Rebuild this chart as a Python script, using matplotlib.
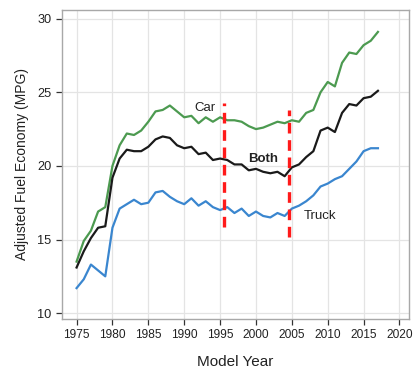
import numpy as np
import matplotlib
matplotlib.use("Agg")
import matplotlib.pyplot as plt

plt.rcParams["font.family"] = ["Liberation Sans", "DejaVu Sans"]

# ----------------------------------------------------------------------
# Data (adjusted fuel economy, MPG)
# ----------------------------------------------------------------------
years = list(range(1975, 2018))

car = [13.5, 14.9, 15.6, 16.9, 17.2, 20.0, 21.4, 22.2, 22.1, 22.4,
       23.0, 23.7, 23.8, 24.1, 23.7, 23.3, 23.4, 22.9, 23.3, 23.0,
       23.3, 23.1, 23.1, 23.0, 22.7, 22.5, 22.6, 22.8, 23.0, 22.9,
       23.1, 23.0, 23.6, 23.8, 25.0, 25.7, 25.4, 27.0, 27.7, 27.6,
       28.2, 28.5, 29.1]

both = [13.1, 14.2, 15.1, 15.8, 15.9, 19.2, 20.5, 21.1, 21.0, 21.0,
        21.3, 21.8, 22.0, 21.9, 21.4, 21.2, 21.3, 20.8, 20.9, 20.4,
        20.5, 20.4, 20.1, 20.1, 19.7, 19.8, 19.6, 19.5, 19.6, 19.3,
        19.9, 20.1, 20.6, 21.0, 22.4, 22.6, 22.3, 23.6, 24.2, 24.1,
        24.6, 24.7, 25.1]

truck = [11.7, 12.3, 13.3, 12.9, 12.5, 15.8, 17.1, 17.4, 17.7, 17.4,
         17.5, 18.2, 18.3, 17.9, 17.6, 17.4, 17.8, 17.3, 17.6, 17.2,
         17.0, 17.2, 16.8, 17.1, 16.6, 16.9, 16.6, 16.5, 16.8, 16.6,
         17.1, 17.3, 17.6, 18.0, 18.6, 18.8, 19.1, 19.3, 19.8, 20.3,
         21.0, 21.2, 21.2]

# red dashed markers: (year, bottom, top)
markers = [(1995.5, 15.85, 24.3), (2004.6, 15.2, 23.8)]

# ----------------------------------------------------------------------
fig = plt.figure(figsize=(4.18, 3.78), dpi=100)
ax = fig.add_axes([0.148, 0.156, 0.830, 0.818])

ax.plot(years, car, color="#4c9a50", lw=1.6, zorder=3)
ax.plot(years, both, color="#1a1a1a", lw=1.6, zorder=3)
ax.plot(years, truck, color="#3a86cf", lw=1.6, zorder=3)

for x, y0, y1 in markers:
    ax.plot([x, x], [y0, y1], color="#ff1a1a", lw=2.4,
            dashes=(3.2, 2.0), zorder=4)

ax.text(1992.9, 23.95, "Car", ha="center", va="center", fontsize=9.5,
        color="#222222")
ax.text(2001.0, 20.45, "Both", ha="center", va="center", fontsize=9.5,
        weight="bold", color="#222222")
ax.text(2008.9, 16.6, "Truck", ha="center", va="center", fontsize=9.5,
        color="#222222")

ax.set_xlim(1972.95, 2021.3)
ax.set_ylim(9.6, 30.6)
ax.set_xticks(range(1975, 2021, 5))
ax.set_yticks([10, 15, 20, 25, 30])
ax.grid(color="#e4e4e4", lw=0.9, zorder=0)
ax.set_axisbelow(True)

for s in ax.spines.values():
    s.set_color("#a8a8a8")
    s.set_linewidth(1.0)

ax.tick_params(direction="out", length=4, width=0.9, color="#333333",
               labelsize=8.6, labelcolor="#222222")
ax.tick_params(axis="y", labelsize=9.2)

ax.set_xlabel("Model Year", fontsize=11, color="#222222", labelpad=10)
ax.set_ylabel("Adjusted Fuel Economy (MPG)", fontsize=10, color="#222222",
              labelpad=6)

fig.savefig("out.png", dpi=100)
